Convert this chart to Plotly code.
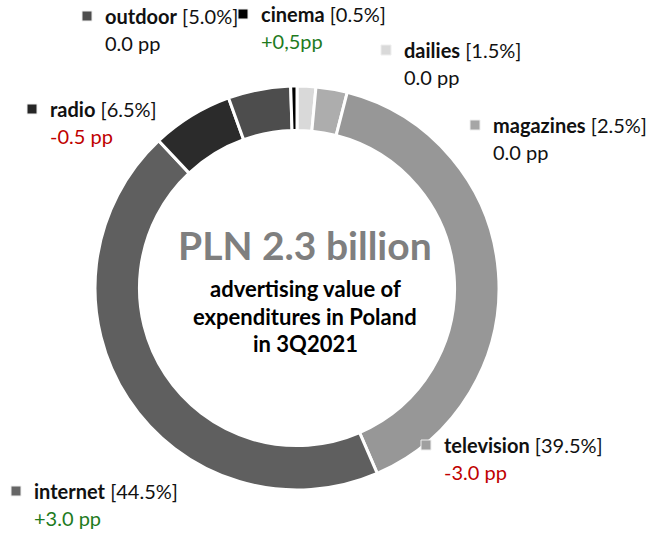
import plotly.graph_objects as go

# ---- data ----
categories = ["dailies", "magazines", "television", "internet", "radio", "outdoor", "cinema"]
shares = [1.5, 2.5, 39.5, 44.5, 6.5, 5.0, 0.5]
share_labels = ["[1.5%]", "[2.5%]", "[39.5%]", "[44.5%]", "[6.5%]", "[5.0%]", "[0.5%]"]
changes = ["0.0 pp", "0.0 pp", "-3.0 pp", "+3.0 pp", "-0.5 pp", "0.0 pp", "+0,5pp"]
change_dir = [0, 0, -1, 1, -1, 0, 1]
colors = ["#d9d9d9", "#adadad", "#979797", "#5f5f5f", "#2b2b2b", "#4d4d4d", "#000000"]
marker_colors = ["#d9d9d9", "#a6a6a6", "#a0a0a0", "#666666", "#262626", "#4d4d4d", "#000000"]

# label anchor positions (pixels: square centre x, first line y)
label_pos = {
    "dailies": (386, 50),
    "magazines": (475, 125),
    "television": (426, 445),
    "internet": (16, 491),
    "radio": (32, 109),
    "outdoor": (87, 16),
    "cinema": (243, 14),
}

W, H = 654, 533
def px(x):
    return x / W
def py(y):
    return 1 - y / H

cx, cy, R = 297, 288, 202

fig = go.Figure()
fig.add_trace(go.Pie(
    labels=categories,
    values=shares,
    sort=False,
    direction="clockwise",
    rotation=0,
    hole=0.78,
    marker=dict(colors=colors, line=dict(color="white", width=3)),
    textinfo="none",
    hoverinfo="label+percent",
    domain=dict(x=[px(cx - R), px(cx + R)], y=[py(cy + R), py(cy - R)]),
    showlegend=False,
))

FONT = "Lato, Carlito, Calibri, sans-serif"
annotations = []
shapes = []
for cat, sl, ch, d, mc in zip(categories, share_labels, changes, change_dir, marker_colors):
    sx, sy = label_pos[cat]
    s = 5
    shapes.append(dict(type="rect", xref="paper", yref="paper",
                       x0=px(sx - s), x1=px(sx + s), y0=py(sy + s), y1=py(sy - s),
                       fillcolor=mc, line=dict(color="#eeeeee", width=1)))
    annotations.append(dict(xref="paper", yref="paper", x=px(sx + 16), y=py(sy),
                            xanchor="left", yanchor="middle", showarrow=False,
                            text=f"<b>{cat}</b> {sl}",
                            font=dict(family=FONT, size=20, color="#111111")))
    col = "#c00000" if d < 0 else ("#1e7b1e" if d > 0 else "#111111")
    annotations.append(dict(xref="paper", yref="paper", x=px(sx + 16), y=py(sy + 27),
                            xanchor="left", yanchor="middle", showarrow=False,
                            text=ch, font=dict(family=FONT, size=20, color=col)))

# centre text
annotations.append(dict(xref="paper", yref="paper", x=px(305), y=py(245),
                        xanchor="center", yanchor="middle", showarrow=False,
                        text="<b>PLN 2.3 billion</b>",
                        font=dict(family=FONT, size=39, color="#7f7f7f")))
for t, yy in [("advertising value of", 288), ("expenditures in Poland", 316), ("in 3Q2021", 343)]:
    annotations.append(dict(xref="paper", yref="paper", x=px(305), y=py(yy),
                            xanchor="center", yanchor="middle", showarrow=False,
                            text=f"<b>{t}</b>",
                            font=dict(family=FONT, size=22, color="#000000")))

fig.update_layout(
    width=W, height=H,
    margin=dict(l=0, r=0, t=0, b=0),
    paper_bgcolor="white", plot_bgcolor="white",
    annotations=annotations, shapes=shapes,
    showlegend=False,
)
fig.write_html("out.html")
